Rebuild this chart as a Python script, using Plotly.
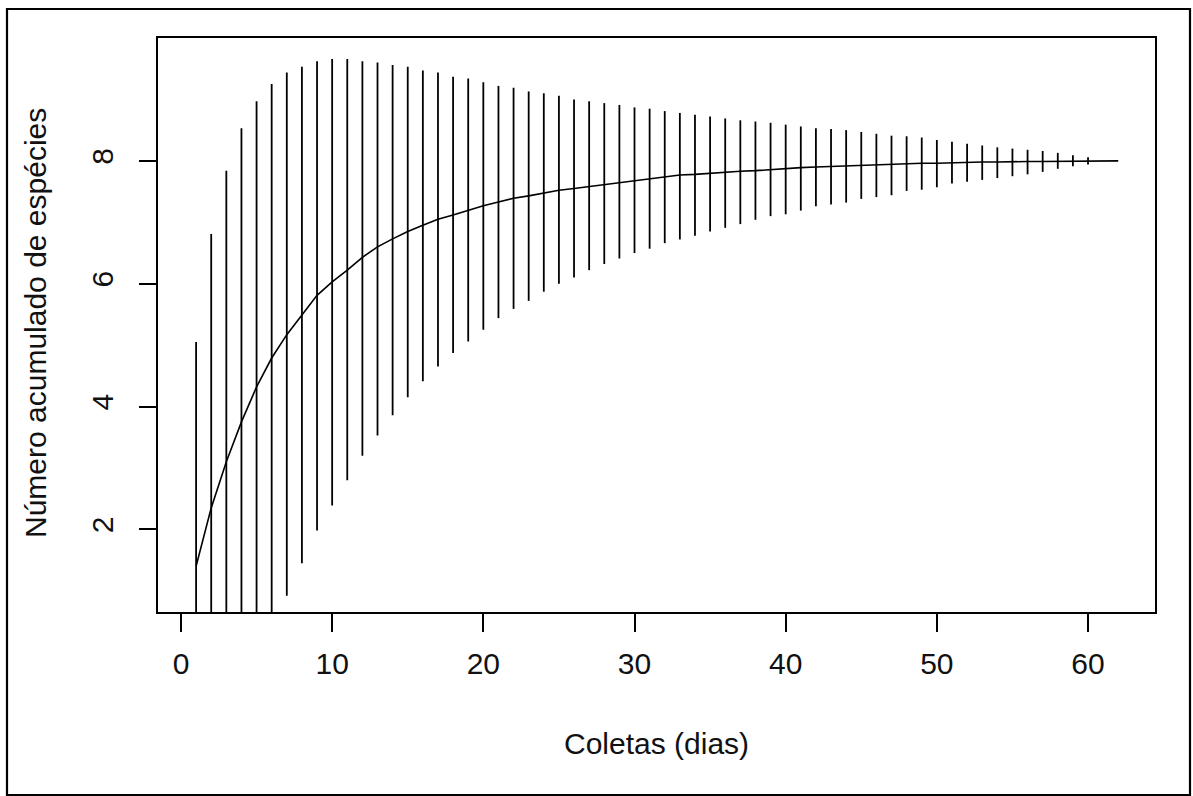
import plotly.graph_objects as go

# Species accumulation (days 1..62)
dias = list(range(1, 63))

riqueza_media = [
    1.40, 2.35, 3.10, 3.75, 4.32, 4.79, 5.17, 5.49, 5.81, 6.03,
    6.22, 6.43, 6.60, 6.73, 6.85, 6.95, 7.05, 7.12, 7.20, 7.27,
    7.33, 7.39, 7.43, 7.48, 7.52, 7.55, 7.58, 7.61, 7.64, 7.67,
    7.71, 7.74, 7.77, 7.78, 7.80, 7.81, 7.83, 7.84, 7.86, 7.87,
    7.89, 7.90, 7.91, 7.92, 7.93, 7.93, 7.94, 7.95, 7.96, 7.96,
    7.97, 7.97, 7.98, 7.98, 7.99, 7.99, 7.99, 7.99, 8.00, 8.00,
    8.00, 8.00,
]

limite_superior = [
    5.05, 6.81, 7.84, 8.53, 8.97, 9.25, 9.44, 9.53, 9.62, 9.66,
    9.66, 9.62, 9.60, 9.56, 9.53, 9.47, 9.44, 9.37, 9.34, 9.28,
    9.22, 9.19, 9.13, 9.10, 9.06, 9.00, 8.97, 8.94, 8.91, 8.87,
    8.85, 8.81, 8.78, 8.75, 8.72, 8.69, 8.66, 8.64, 8.62, 8.59,
    8.56, 8.53, 8.52, 8.50, 8.47, 8.44, 8.41, 8.40, 8.38, 8.34,
    8.31, 8.28, 8.25, 8.22, 8.20, 8.18, 8.16, 8.13, 8.09, 8.06,
    8.00, 8.00,
]

limite_inferior = [
    -2.25, -2.11, -1.64, -1.03, -0.33, 0.33, 0.92, 1.45, 1.98, 2.39,
    2.80, 3.20, 3.53, 3.86, 4.15, 4.41, 4.65, 4.87, 5.06, 5.25,
    5.44, 5.59, 5.72, 5.87, 6.00, 6.10, 6.22, 6.32, 6.41, 6.50,
    6.57, 6.66, 6.72, 6.78, 6.85, 6.91, 6.97, 7.04, 7.10, 7.13,
    7.19, 7.26, 7.29, 7.32, 7.38, 7.41, 7.44, 7.51, 7.53, 7.57,
    7.63, 7.66, 7.69, 7.72, 7.75, 7.78, 7.82, 7.87, 7.91, 7.94,
    8.00, 8.00,
]

x_ticks = [0, 10, 20, 30, 40, 50, 60]
y_ticks = [2, 4, 6, 8]

FONT = "Liberation Sans, Arial, sans-serif"

# vertical interval segments
seg_x, seg_y = [], []
for d, lo, hi in zip(dias, limite_inferior, limite_superior):
    if hi > lo:
        seg_x += [d, d, None]
        seg_y += [lo, hi, None]

fig = go.Figure()
fig.add_trace(go.Scatter(x=seg_x, y=seg_y, mode="lines",
                         line=dict(color="black", width=1.8),
                         hoverinfo="skip", showlegend=False))
fig.add_trace(go.Scatter(x=dias, y=riqueza_media, mode="lines",
                         line=dict(color="black", width=1.6),
                         showlegend=False))

L, R, T, B = 158, 38, 38, 184
W, H = 1193, 796
pw, ph = W - L - R, H - T - B

def px_x(px):
    return (px - L) / pw

def px_y(py):
    return (H - B - py) / ph

fig.update_layout(
    width=W, height=H,
    margin=dict(l=L, r=R, t=T, b=B),
    paper_bgcolor="white", plot_bgcolor="white",
    font=dict(family=FONT, size=30, color="#111111"),
    xaxis=dict(range=[-1.52, 64.43], tickvals=x_ticks,
               ticktext=[str(v) for v in x_ticks],
               showgrid=False, zeroline=False,
               showline=True, mirror=True, linecolor="black", linewidth=1.6,
               ticks="outside", ticklen=18, tickwidth=1.6, tickcolor="black",
               ticklabelstandoff=6,
               tickfont=dict(size=30, family=FONT, color="#111111")),
    yaxis=dict(range=[0.655, 10.0], tickvals=y_ticks,
               ticktext=[str(v) for v in y_ticks],
               showgrid=False, zeroline=False,
               showline=True, mirror=True, linecolor="black", linewidth=1.6,
               ticks="outside", ticklen=17, tickwidth=1.6, tickcolor="black",
               tickangle=-90, ticklabelstandoff=14,
               tickfont=dict(size=30, family=FONT, color="#111111")),
    annotations=[
        dict(text="Coletas (dias)", xref="paper", yref="paper",
             x=px_x(656), y=px_y(743), xanchor="center", yanchor="middle",
             showarrow=False, font=dict(size=30, family=FONT, color="#111111")),
        dict(text="Número acumulado de espécies", xref="paper", yref="paper",
             x=px_x(35), y=px_y(323), xanchor="center", yanchor="middle",
             textangle=-90, showarrow=False,
             font=dict(size=30, family=FONT, color="#111111")),
    ],
    shapes=[
        dict(type="rect", xref="paper", yref="paper",
             x0=px_x(7), x1=px_x(1190), y0=px_y(795), y1=px_y(9),
             line=dict(color="black", width=2.2), fillcolor="rgba(0,0,0,0)",
             layer="above"),
    ],
)

fig.write_html("out.html")
